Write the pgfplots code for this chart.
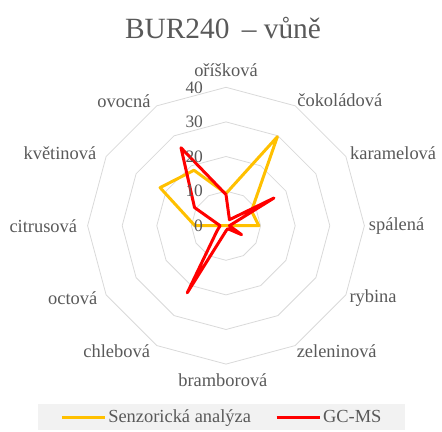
\documentclass[border=0pt]{standalone}
\usepackage{pgfplots}
\pgfplotsset{compat=1.18}
\usepackage{fontspec}
\setmainfont{Liberation Serif}
\definecolor{txt}{HTML}{595959}
\definecolor{gridc}{HTML}{D9D9D9}
\definecolor{yel}{HTML}{FFC000}
\definecolor{redc}{HTML}{FF0000}
\definecolor{legbg}{HTML}{F2F2F2}
\begin{document}
\begin{tikzpicture}
\path[use as bounding box] (0,0) rectangle (442bp,432bp);
\node[text=txt, font=\fontsize{29.5}{32}\selectfont] at (223bp,404bp) {BUR240 \,– vůně};
\begin{axis}[at={(226bp,206.3bp)}, anchor=center, scale only axis,
  width=276.8bp, height=276.8bp,
  xmin=-40, xmax=40, ymin=-40, ymax=40,
  hide axis, clip=false,
  legend columns=2,
  legend style={at={(0.485,-0.192)}, anchor=center, fill=legbg, draw=none,
    font=\fontsize{18.5}{20}\selectfont, text=txt,
    inner xsep=22bp, inner ysep=4bp,
    nodes={inner sep=2bp},
    /tikz/every even column/.append style={column sep=22bp}},
  legend image code/.code={\draw[#1] (0bp,0bp) -- (43bp,0bp);},
]
% grid rings
\addplot[gridc, line width=0.8pt, data cs=polar, forget plot] coordinates {(0,10) (30,10) (60,10) (90,10) (120,10) (150,10) (180,10) (210,10) (240,10) (270,10) (300,10) (330,10) (360,10)};
\addplot[gridc, line width=0.8pt, data cs=polar, forget plot] coordinates {(0,20) (30,20) (60,20) (90,20) (120,20) (150,20) (180,20) (210,20) (240,20) (270,20) (300,20) (330,20) (360,20)};
\addplot[gridc, line width=0.8pt, data cs=polar, forget plot] coordinates {(0,30) (30,30) (60,30) (90,30) (120,30) (150,30) (180,30) (210,30) (240,30) (270,30) (300,30) (330,30) (360,30)};
\addplot[gridc, line width=0.8pt, data cs=polar, forget plot] coordinates {(0,40) (30,40) (60,40) (90,40) (120,40) (150,40) (180,40) (210,40) (240,40) (270,40) (300,40) (330,40) (360,40)};
% Senzoricka analyza
\addplot[yel, line width=3pt, line join=round, data cs=polar] coordinates {
  (90,9.3) (60,29.7) (30,8.5) (0,9.5) (-30,0) (-60,0) (-90,0) (-120,0) (-150,0) (180,9) (150,22) (120,18.5) (90,9.3)};
\addlegendentry{Senzorická analýza}
% GC-MS
\addplot[redc, line width=3pt, line join=round, data cs=polar] coordinates {
  (90,9) (60,2) (30,16) (0,1) (-30,5.2) (-60,1) (-90,1.5) (-120,22.4) (-150,3) (180,1.7) (150,10.5) (120,26) (90,9)};
\addlegendentry{GC-MS}
% tick labels
\begin{scope}[every node/.style={text=txt, font=\fontsize{17.5}{18}\selectfont, anchor=east, inner sep=0pt}]
\node at (axis cs:-6.6,0) {0};
\node at (axis cs:-6.6,10) {10};
\node at (axis cs:-6.6,20) {20};
\node at (axis cs:-6.6,30) {30};
\node at (axis cs:-6.6,40) {40};
\end{scope}
% category labels
\begin{scope}[every node/.style={text=txt, font=\fontsize{18.5}{20}\selectfont, inner sep=0pt}]
\node at (axis cs:0,45) {oříšková};
\node at (axis cs:32.9,36.3) {čokoládová};
\node at (axis cs:48.3,21.1) {karamelová};
\node at (axis cs:49.3,0) {spálená};
\node at (axis cs:42.5,-21) {rybina};
\node at (axis cs:32,-36.2) {zeleninová};
\node at (axis cs:-0.9,-44.6) {bramborová};
\node at (axis cs:-31.6,-36.2) {chlebová};
\node at (axis cs:-44.3,-21) {octová};
\node at (axis cs:-52.8,0) {citrusová};
\node at (axis cs:-48,21.1) {květinová};
\node at (axis cs:-29.5,36.1) {ovocná};
\end{scope}
\end{axis}
\end{tikzpicture}
\end{document}
